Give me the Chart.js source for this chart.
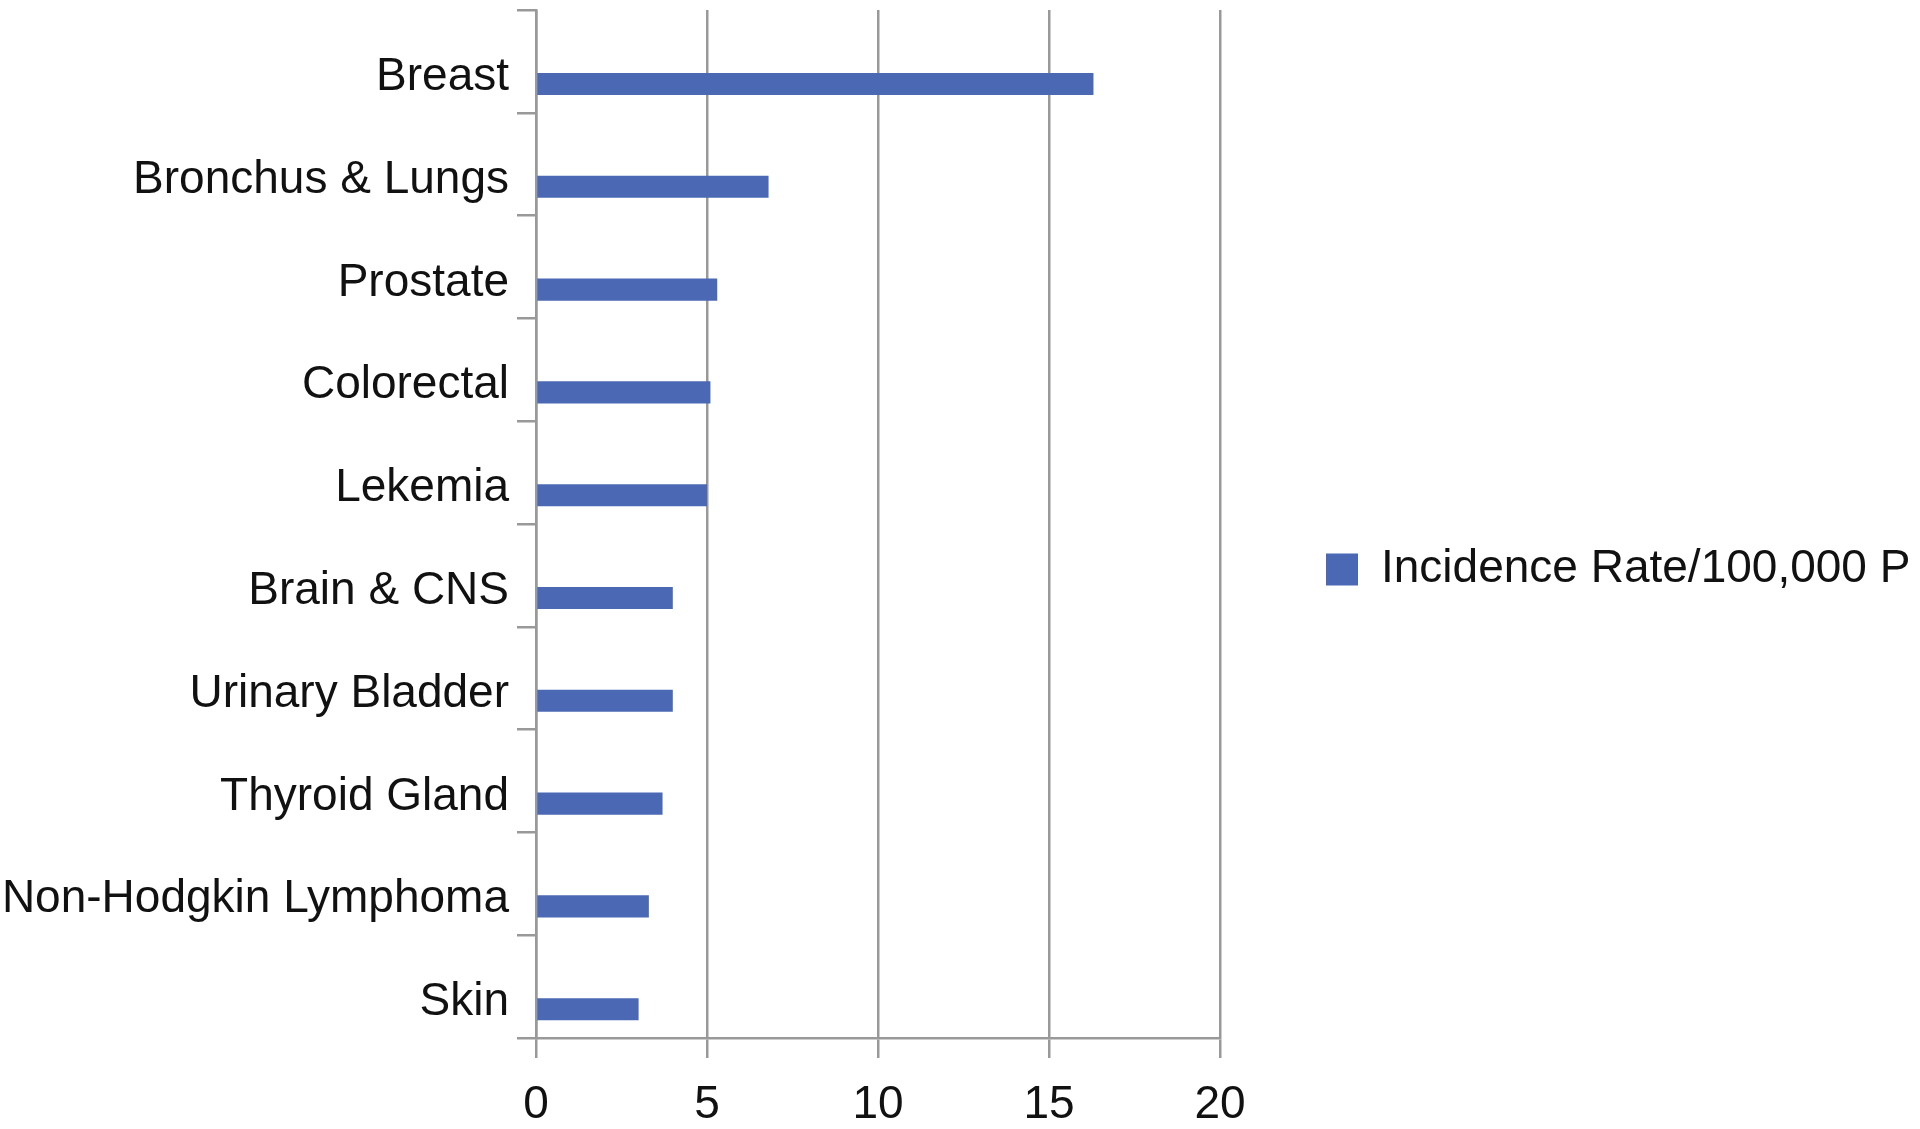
<!DOCTYPE html>
<html>
<head>
<meta charset="utf-8">
<title>Incidence Rate</title>
<script src="https://cdn.jsdelivr.net/npm/chart.js@4/dist/chart.umd.min.js"></script>
<style>
  html, body { margin: 0; padding: 0; background: #ffffff; }
  #wrap { width: 1920px; height: 1129px; position: relative; }
</style>
</head>
<body>
<div id="wrap"><canvas id="chart"></canvas></div>
<script>
// Cancer sites, top to bottom
const categories = [
  'Breast',
  'Bronchus & Lungs',
  'Prostate',
  'Colorectal',
  'Lekemia',
  'Brain & CNS',
  'Urinary Bladder',
  'Thyroid Gland',
  'Non-Hodgkin Lymphoma',
  'Skin'
];

// Incidence rate per 100,000
const incidenceRates = [16.3, 6.8, 5.3, 5.1, 5.0, 4.0, 4.0, 3.7, 3.3, 3.0];

const seriesName = 'Incidence Rate/100,000 P';

// Value axis ticks
const xTicks = [0, 5, 10, 15, 20];

const FONT = "'Liberation Sans', Arial, Helvetica, sans-serif";
const GRID = '#999999';
const INK = '#111111';
const BAR = '#4a68b4';

// Bars sit in the lower part of each category band
const BAR_SHIFT = 0.22;
const lowerBars = {
  id: 'lowerBars',
  afterDatasetsUpdate(chart) {
    const y = chart.scales.y;
    const band = y.getPixelForValue(1) - y.getPixelForValue(0);
    chart.getDatasetMeta(0).data.forEach(bar => { bar.y += band * BAR_SHIFT; });
  }
};

new Chart(document.getElementById('chart'), {
  type: 'bar',
  data: {
    labels: categories,
    datasets: [{
      label: seriesName,
      data: incidenceRates,
      backgroundColor: BAR,
      borderWidth: 0,
      categoryPercentage: 0.215,
      barPercentage: 1
    }]
  },
  options: {
    indexAxis: 'y',
    responsive: true,
    maintainAspectRatio: false,
    devicePixelRatio: 1,
    animation: false,
    layout: { padding: { top: 10, left: 0, right: 0, bottom: 0 } },
    plugins: {
      tooltip: { enabled: false },
      legend: {
        position: 'right',
        maxWidth: 700,
        labels: {
          font: { family: FONT, size: 46 },
          color: INK,
          boxWidth: 32,
          boxHeight: 32,
          padding: 106
        }
      }
    },
    scales: {
      x: {
        min: xTicks[0],
        max: xTicks[xTicks.length - 1],
        afterBuildTicks(scale) { scale.ticks = xTicks.map(v => ({ value: v })); },
        afterFit(scale) {
          scale.height = 91;
          scale.paddingLeft = 0;
          scale.paddingRight = 0;
        },
        grid: {
          color: GRID,
          lineWidth: 2.5,
          drawOnChartArea: true,
          drawTicks: true,
          tickLength: 20
        },
        border: { display: true, color: GRID, width: 2.5 },
        ticks: {
          font: { family: FONT, size: 46 },
          color: INK,
          padding: 20
        }
      },
      y: {
        afterFit(scale) {
          scale.width = 536;
          scale.paddingTop = 0;
          scale.paddingBottom = 0;
        },
        grid: {
          color: GRID,
          lineWidth: 2.5,
          offset: true,
          drawOnChartArea: false,
          drawTicks: true,
          tickLength: 19
        },
        border: { display: true, color: GRID, width: 2.5 },
        ticks: {
          font: { family: FONT, size: 46 },
          color: INK,
          padding: 8,
          labelOffset: 16,
          autoSkip: false
        }
      }
    }
  },
  plugins: [lowerBars]
});
</script>
</body>
</html>
